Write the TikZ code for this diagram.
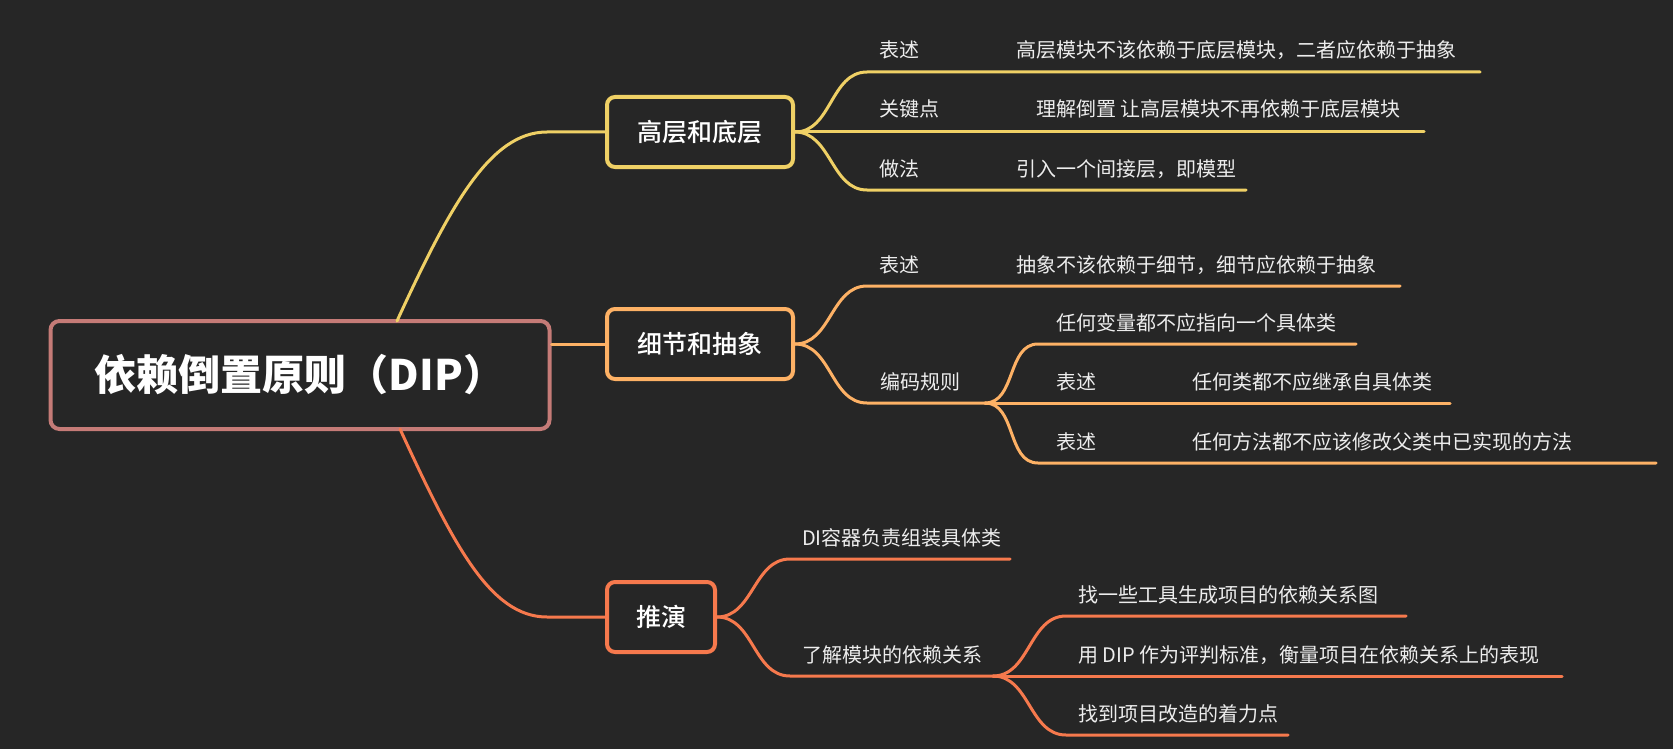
\documentclass[tikz,border=0pt]{standalone}
\usepackage{fontspec}
\setmainfont{Noto Sans CJK SC}
\newfontfamily\topicfont{Noto Sans CJK SC Medium}
\usetikzlibrary{positioning}
\definecolor{mapbg}{HTML}{262626}
\definecolor{rootc}{HTML}{C57B77}
\definecolor{hlc}{HTML}{EFD065}
\definecolor{dac}{HTML}{FDB165}
\definecolor{dedc}{HTML}{F6794D}
\definecolor{txt}{HTML}{EDEDED}
\tikzset{
  rootbox/.style={draw=rootc, line width=4pt, rounded corners=9pt, fill=mapbg, text=white,
                  minimum width=499pt, minimum height=108pt,
                  font=\fontsize{42}{50}\selectfont\bfseries},
  topic/.style={draw, line width=4pt, rounded corners=8pt, fill=mapbg, text=white,
                minimum height=70pt, font=\fontsize{25}{30}\topicfont},
  leaf/.style={anchor=base west, inner sep=0pt, text=txt, font=\fontsize{20}{24}\selectfont},
  branch/.style={line width=3pt, line cap=round}
}

\begin{document}
\begin{tikzpicture}[x=1pt, y=-1pt]
  \useasboundingbox (0,0) rectangle (1673,749);
  \fill[mapbg] (0,0) rectangle (1673,749);
  % root and the three topics
  \node[rootbox] (dip) at (300,375) {依赖倒置原则（DIP）};
  \node[topic, draw=hlc, minimum width=186pt] (hl) at (700,132) {高层和底层};
  \node[topic, draw=dac, minimum width=186pt] (da) at (700,344) {细节和抽象};
  \node[topic, draw=dedc, minimum width=108pt] (ded) at (661,617) {推演};
  \coordinate (dip-top) at (397,321);
  \coordinate (dip-bot) at (400,429);
  \coordinate (hl-in) at (547,132);
  \coordinate (ded-in) at (547,617);
  \draw[branch, hlc] (dip-top) .. controls +(53,-115) and +(-57,0) .. (hl-in) -- (hl.west);
  \draw[branch, dac] (dip.east |- da.west) -- (da.west);
  \draw[branch, dedc] (dip-bot) .. controls +(53,115) and +(-57,0) .. (ded-in) -- (ded.west);
  % high and low
  \coordinate (hl-say) at (867,72);   \coordinate (hl-say-e) at (1480,72);
  \coordinate (hl-key) at (867,132);  \coordinate (hl-key-e) at (1424,132);
  \coordinate (hl-how) at (867,190);  \coordinate (hl-how-e) at (1246,190);
  \draw[branch, hlc] (hl.east) to[out=0,in=180] (hl-say) -- (hl-say-e);
  \draw[branch, hlc] (hl.east) -- (hl-key) -- (hl-key-e);
  \draw[branch, hlc] (hl.east) to[out=0,in=180] (hl-how) -- (hl-how-e);
  \node[leaf] (hl-say-t) at (879,58) {表述};
  \node[leaf] (hl-say-d) at (1016,58) {高层模块不该依赖于底层模块，二者应依赖于抽象};
  \node[leaf] (hl-key-t) at (879,117) {关键点};
  \node[leaf] (hl-key-d) at (1036,117) {理解倒置 让高层模块不再依赖于底层模块};
  \node[leaf] (hl-how-t) at (879,176) {做法};
  \node[leaf] (hl-how-d) at (1016,176) {引入一个间接层，即模型};
  % detail and abstraction
  \coordinate (da-say) at (867,286);  \coordinate (da-say-e) at (1400,286);
  \coordinate (da-rule) at (867,403); \coordinate (da-fork) at (985,403);
  \draw[branch, dac] (da.east) to[out=0,in=180] (da-say) -- (da-say-e);
  \draw[branch, dac] (da.east) to[out=0,in=180] (da-rule) -- (da-fork);
  \node[leaf] (da-say-t) at (879,272) {表述};
  \node[leaf] (da-say-d) at (1016,272) {抽象不该依赖于细节，细节应依赖于抽象};
  \node[leaf] (da-rule-t) at (880,389) {编码规则};
  \coordinate (rule-var) at (1038,344); \coordinate (rule-var-e) at (1356,344);
  \coordinate (rule-cls) at (1038,403); \coordinate (rule-cls-e) at (1450,403);
  \coordinate (rule-mth) at (1038,463); \coordinate (rule-mth-e) at (1656,463);
  \draw[branch, dac] (da-fork) to[out=0,in=180] (rule-var) -- (rule-var-e);
  \draw[branch, dac] (da-fork) -- (rule-cls) -- (rule-cls-e);
  \draw[branch, dac] (da-fork) to[out=0,in=180] (rule-mth) -- (rule-mth-e);
  \node[leaf] (rule-var-d) at (1056,330) {任何变量都不应指向一个具体类};
  \node[leaf] (rule-cls-t) at (1056,389) {表述};
  \node[leaf] (rule-cls-d) at (1192,389) {任何类都不应继承自具体类};
  \node[leaf] (rule-mth-t) at (1056,449) {表述};
  \node[leaf] (rule-mth-d) at (1192,449) {任何方法都不应该修改父类中已实现的方法};
  % deduction
  \coordinate (ded-di) at (790,559);  \coordinate (ded-di-e) at (1010,559);
  \coordinate (ded-dep) at (790,676); \coordinate (ded-fork) at (993,676);
  \draw[branch, dedc] (ded.east) to[out=0,in=180] (ded-di) -- (ded-di-e);
  \draw[branch, dedc] (ded.east) to[out=0,in=180] (ded-dep) -- (ded-fork);
  \node[leaf] (ded-di-d) at (802,545) {DI容器负责组装具体类};
  \node[leaf] (ded-dep-d) at (802,662) {了解模块的依赖关系};
  \coordinate (dep-tool) at (1066,616);  \coordinate (dep-tool-e) at (1406,616);
  \coordinate (dep-judge) at (1066,676); \coordinate (dep-judge-e) at (1562,676);
  \coordinate (dep-point) at (1066,735); \coordinate (dep-point-e) at (1288,735);
  \draw[branch, dedc] (ded-fork) to[out=0,in=180] (dep-tool) -- (dep-tool-e);
  \draw[branch, dedc] (ded-fork) -- (dep-judge) -- (dep-judge-e);
  \draw[branch, dedc] (ded-fork) to[out=0,in=180] (dep-point) -- (dep-point-e);
  \node[leaf] (dep-tool-d) at (1078,602) {找一些工具生成项目的依赖关系图};
  \node[leaf] (dep-judge-d) at (1078,662) {用 DIP 作为评判标准，衡量项目在依赖关系上的表现};
  \node[leaf] (dep-point-d) at (1078,721) {找到项目改造的着力点};
\end{tikzpicture}
\end{document}
